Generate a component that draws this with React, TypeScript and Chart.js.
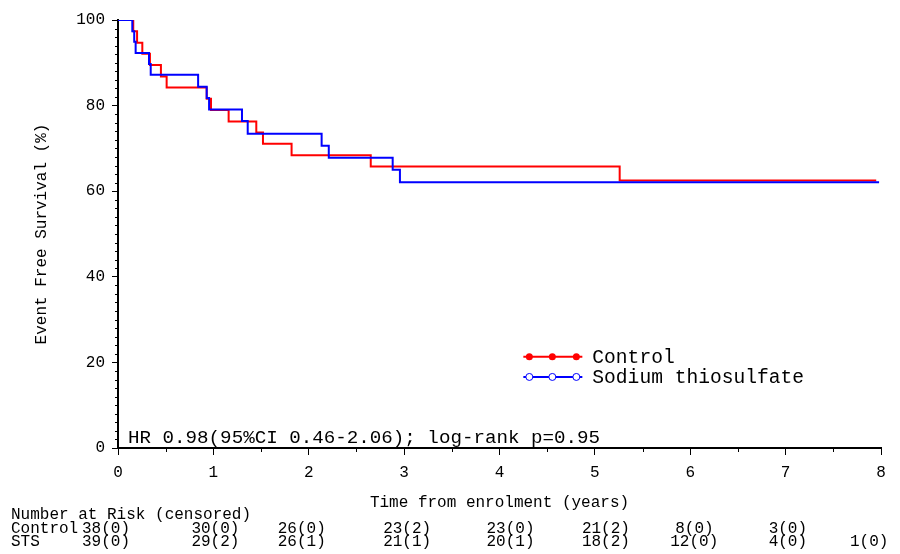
import React, { useEffect, useRef } from 'react';
import { Chart, registerables } from 'chart.js';

Chart.register(...registerables);

const FONT = '"Liberation Mono", "Courier New", monospace';

const controlTimes = [0, 0.16, 0.2, 0.255, 0.335, 0.45, 0.51, 0.93, 0.975, 1.16, 1.45, 1.52, 1.82, 2.65, 5.26, 7.95];
const controlSurv = [100, 97.4, 94.7, 92.1, 89.5, 86.8, 84.2, 81.6, 79.0, 76.3, 73.7, 71.1, 68.4, 65.8, 62.5, 62.5];
const stsTimes = [0, 0.15, 0.17, 0.185, 0.325, 0.343, 0.84, 0.93, 0.955, 1.3, 1.36, 2.135, 2.21, 2.88, 2.956, 7.98];
const stsSurv = [100, 97.4, 94.9, 92.3, 89.7, 87.2, 84.4, 81.8, 79.1, 76.4, 73.4, 70.6, 67.8, 65.0, 62.1, 62.1];

const seriesNames = ['Control', 'Sodium thiosulfate'];
const riskRowNames = ['Control', 'STS'];
const riskHeader = 'Number at Risk (censored)';
const riskTimes = [0, 1, 2, 3, 4, 5, 6, 7, 8];
const controlRisk = ['38(0)', '30(0)', '26(0)', '23(2)', '23(0)', '21(2)', '8(0)', '3(0)', ''];
const stsRisk = ['39(0)', '29(2)', '26(1)', '21(1)', '20(1)', '18(2)', '12(0)', '4(0)', '1(0)'];
const statText = 'HR 0.98(95%CI 0.46-2.06); log-rank p=0.95';
const xTitle = 'Time from enrolment (years)';
const yTitle = 'Event Free Survival (%)';
const xMinorTicks = [0.5, 1.5, 2.5, 3.5, 4.5, 5.5, 6.5, 7.5];
const yMinorStep = 2;

// layout-only nudges of the at-risk text columns relative to their tick (px)
const riskColNudge = [-36, -22, -31, -21, -13, -13, -20, -17, -31];

const toPoints = (xs: number[], ys: number[]) => xs.map((x, i) => ({ x, y: ys[i] }));

const extrasPlugin = {
  id: 'kmExtras',
  afterDraw(chart: any) {
    const ctx = chart.ctx;
    const xs = chart.scales.x;
    const ys = chart.scales.y;
    const area = chart.chartArea;
    ctx.save();
    // minor ticks
    ctx.strokeStyle = '#000';
    ctx.lineWidth = 1;
    ctx.beginPath();
    for (let v = 0; v <= 100; v += yMinorStep) {
      if (v % 20 === 0) continue;
      const py = Math.round(ys.getPixelForValue(v)) + 0.5;
      ctx.moveTo(area.left - 3, py);
      ctx.lineTo(area.left, py);
    }
    xMinorTicks.forEach((v) => {
      const px = Math.round(xs.getPixelForValue(v)) + 0.5;
      ctx.moveTo(px, area.bottom);
      ctx.lineTo(px, area.bottom + 4);
    });
    ctx.stroke();

    // stats text
    ctx.fillStyle = '#000';
    ctx.font = `19.2px ${FONT}`;
    ctx.textAlign = 'left';
    ctx.textBaseline = 'middle';
    ctx.fillText(statText, area.left + 10, area.bottom - 10);

    // legend
    const ds = chart.data.datasets;
    const lx0 = xs.getPixelForValue(4.25);
    const lx1 = lx0 + 59;
    const rows = [ys.getPixelForValue(21.3), ys.getPixelForValue(16.6)];
    seriesNames.forEach((name, i) => {
      const y = rows[i];
      const color = ds[i].borderColor;
      ctx.strokeStyle = color;
      ctx.lineWidth = 2;
      ctx.beginPath();
      ctx.moveTo(lx0, y);
      ctx.lineTo(lx1, y);
      ctx.stroke();
      [6, 29, 53].forEach((dx) => {
        ctx.beginPath();
        ctx.arc(lx0 + dx, y, 3.5, 0, Math.PI * 2);
        if (i === 0) {
          ctx.fillStyle = color;
          ctx.fill();
        } else {
          ctx.fillStyle = '#fff';
          ctx.fill();
          ctx.lineWidth = 1;
          ctx.strokeStyle = color;
          ctx.stroke();
        }
      });
      ctx.fillStyle = '#000';
      ctx.font = `19.6px ${FONT}`;
      ctx.textAlign = 'left';
      ctx.textBaseline = 'middle';
      ctx.fillText(name, lx1 + 10, y + 1);
    });

    // number at risk table
    ctx.font = `16px ${FONT}`;
    ctx.fillStyle = '#000';
    ctx.textBaseline = 'middle';
    ctx.textAlign = 'left';
    ctx.fillText(riskHeader, 11, 515);
    ctx.fillText(riskRowNames[0], 11, 529);
    ctx.fillText(riskRowNames[1], 11, 542);
    riskTimes.forEach((t, i) => {
      const sx = xs.getPixelForValue(t) + riskColNudge[i];
      if (controlRisk[i]) {
        const adj = controlRisk[i].length < 5 && i === 6 ? 5 : 0;
        ctx.fillText(controlRisk[i], sx + adj, 529);
      }
      if (stsRisk[i]) ctx.fillText(stsRisk[i], sx, 542);
    });
    ctx.restore();
  },
};

export default function App() {
  const ref = useRef<HTMLCanvasElement>(null);
  useEffect(() => {
    if (!ref.current) return;
    const chart = new Chart(ref.current, {
      type: 'line',
      data: {
        datasets: [
          {
            label: seriesNames[0],
            data: toPoints(controlTimes, controlSurv),
            borderColor: '#ff0000',
            borderWidth: 2,
            pointRadius: 0,
            stepped: 'before',
            fill: false,
            order: 1,
          },
          {
            label: seriesNames[1],
            data: toPoints(stsTimes, stsSurv),
            borderColor: '#0000ff',
            borderWidth: 2,
            pointRadius: 0,
            stepped: 'before',
            fill: false,
            order: 0,
          },
        ],
      },
      options: {
        animation: false,
        responsive: false,
        devicePixelRatio: 1,
        layout: { padding: { left: 0, right: 19, top: 20, bottom: 42 } },
        plugins: { legend: { display: false }, tooltip: { enabled: false } },
        scales: {
          x: {
            type: 'linear',
            min: 0,
            max: 8,
            afterFit: (s: any) => { s.height = 64; },
            ticks: { stepSize: 1, color: '#000', font: { family: FONT, size: 16 }, padding: 8, maxRotation: 0 },
            grid: { drawOnChartArea: false, tickLength: 7, color: '#000', tickWidth: 1 },
            border: { display: true, color: '#000', width: 2 },
            title: { display: true, text: xTitle, color: '#000', font: { family: FONT, size: 16 }, padding: { top: 0, bottom: 0 } },
          },
          y: {
            type: 'linear',
            min: 0,
            max: 100,
            afterFit: (s: any) => { s.width = 118; },
            ticks: { stepSize: 20, color: '#000', font: { family: FONT, size: 16 }, padding: 7 },
            grid: { drawOnChartArea: false, tickLength: 6, color: '#000', tickWidth: 1 },
            border: { display: true, color: '#000', width: 2 },
            title: { display: true, text: yTitle, color: '#000', font: { family: FONT, size: 16 }, padding: { top: 32, bottom: 0 } },
          },
        },
      },
      plugins: [extrasPlugin],
    });
    return () => chart.destroy();
  }, []);
  return (
    <div style={{ position: 'fixed', left: 0, top: 0, width: 900, height: 554, background: '#fff' }}>
      <canvas ref={ref} width={900} height={554} style={{ display: 'block' }} />
    </div>
  );
}
